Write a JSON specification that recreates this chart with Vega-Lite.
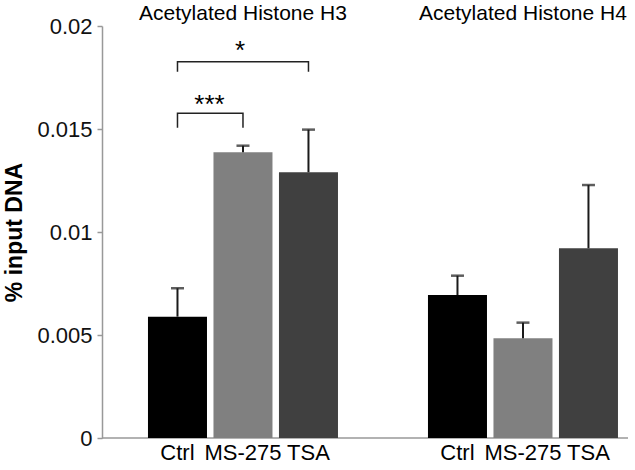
{
  "$schema": "https://vega.github.io/schema/vega-lite/v6.json",
  "width": 526,
  "height": 412,
  "autosize": "none",
  "padding": {"left": 102, "top": 26, "right": 7, "bottom": 32},
  "config": {"view": {"stroke": null}, "font": "Liberation Sans"},
  "datasets": {
    "bars": [
      {"group": "Acetylated Histone H3", "treatment": "Ctrl", "value": 0.00589, "upper": 0.00727},
      {"group": "Acetylated Histone H3", "treatment": "MS-275", "value": 0.01387, "upper": 0.01419},
      {"group": "Acetylated Histone H3", "treatment": "TSA", "value": 0.0129, "upper": 0.01497},
      {"group": "Acetylated Histone H4", "treatment": "Ctrl", "value": 0.00694, "upper": 0.00788},
      {"group": "Acetylated Histone H4", "treatment": "MS-275", "value": 0.00484, "upper": 0.0056},
      {"group": "Acetylated Histone H4", "treatment": "TSA", "value": 0.00921, "upper": 0.01228}
    ],
    "brackets": [
      {"bracket": "ctrl-tsa", "group": "Acetylated Histone H3", "treatment": "Ctrl", "y": 0.01778, "step": 1},
      {"bracket": "ctrl-tsa", "group": "Acetylated Histone H3", "treatment": "Ctrl", "y": 0.01827, "step": 2},
      {"bracket": "ctrl-tsa", "group": "Acetylated Histone H3", "treatment": "TSA", "y": 0.01827, "step": 3},
      {"bracket": "ctrl-tsa", "group": "Acetylated Histone H3", "treatment": "TSA", "y": 0.01778, "step": 4},
      {"bracket": "ctrl-ms", "group": "Acetylated Histone H3", "treatment": "Ctrl", "y": 0.01506, "step": 1},
      {"bracket": "ctrl-ms", "group": "Acetylated Histone H3", "treatment": "Ctrl", "y": 0.01576, "step": 2},
      {"bracket": "ctrl-ms", "group": "Acetylated Histone H3", "treatment": "MS-275", "y": 0.01576, "step": 3},
      {"bracket": "ctrl-ms", "group": "Acetylated Histone H3", "treatment": "MS-275", "y": 0.01506, "step": 4}
    ],
    "star1": [
      {"group": "Acetylated Histone H3", "treatment": "MS-275", "y": 0.01842, "label": "*"}
    ],
    "star3": [
      {"group": "Acetylated Histone H3", "treatment": "Ctrl", "y": 0.01578, "label": "***"}
    ]
  },
  "layer": [
    {
      "data": {"values": [{}]},
      "mark": {"type": "rule", "color": "#999999", "strokeWidth": 1.5},
      "encoding": {"y": {"datum": 0, "type": "quantitative"}}
    },
    {
      "data": {"name": "bars"},
      "mark": {"type": "bar"},
      "encoding": {
        "x": {"field": "group", "type": "nominal", "sort": ["Acetylated Histone H3", "Acetylated Histone H4"],
          "scale": {"paddingInner": 0.3214, "paddingOuter": 0.1, "align": 0.821},
          "axis": {"orient": "top", "title": null, "domain": false, "ticks": false, "labelAngle": 0, "labelFontSize": 21, "labelColor": "#000000", "labelPadding": 7, "labelBaseline": "alphabetic", "labelLimit": 0, "labelOverlap": false}},
        "xOffset": {"field": "treatment", "type": "nominal", "sort": ["Ctrl", "MS-275", "TSA"], "scale": {"paddingInner": 0.099, "paddingOuter": 0}},
        "y": {"field": "value", "type": "quantitative",
          "scale": {"domain": [0, 0.02], "nice": false},
          "axis": {"values": [0, 0.005, 0.01, 0.015, 0.02], "format": "~g", "grid": false,
            "domainColor": "#999999", "domainWidth": 1.5, "tickColor": "#999999", "tickWidth": 1.5, "tickSize": 5,
            "labelFontSize": 22, "labelColor": "#111111", "labelPadding": 5,
            "title": "% input DNA", "titleFontSize": 23, "titleFontWeight": "bold", "titleColor": "#000000", "titlePadding": 10}},
        "color": {"field": "treatment", "type": "nominal", "scale": {"domain": ["Ctrl", "MS-275", "TSA"], "range": ["#000000", "#808080", "#404040"]}, "legend": null}
      }
    },
    {
      "data": {"name": "bars"},
      "mark": {"type": "rule", "color": "#1a1a1a", "strokeWidth": 2},
      "encoding": {
        "x": {"field": "group", "type": "nominal"},
        "xOffset": {"field": "treatment", "type": "nominal"},
        "y": {"field": "value", "type": "quantitative"},
        "y2": {"field": "upper"}
      }
    },
    {
      "data": {"name": "bars"},
      "mark": {"type": "tick", "color": "#1a1a1a", "size": 13, "thickness": 2.5, "orient": "horizontal"},
      "encoding": {
        "x": {"field": "group", "type": "nominal"},
        "xOffset": {"field": "treatment", "type": "nominal"},
        "y": {"field": "upper", "type": "quantitative"}
      }
    },
    {
      "data": {"name": "bars"},
      "mark": {"type": "text", "fontSize": 22, "color": "#000000", "baseline": "alphabetic", "align": "center", "dy": 22},
      "encoding": {
        "x": {"field": "group", "type": "nominal"},
        "xOffset": {"field": "treatment", "type": "nominal"},
        "y": {"datum": 0, "type": "quantitative"},
        "text": {"field": "treatment"}
      }
    },
    {
      "data": {"name": "brackets"},
      "mark": {"type": "line", "color": "#222222", "strokeWidth": 1.5},
      "encoding": {
        "x": {"field": "group", "type": "nominal"},
        "xOffset": {"field": "treatment", "type": "nominal"},
        "y": {"field": "y", "type": "quantitative"},
        "detail": {"field": "bracket"},
        "order": {"field": "step", "type": "quantitative"}
      }
    },
    {
      "data": {"name": "star1"},
      "mark": {"type": "text", "fontSize": 26, "color": "#000000", "baseline": "alphabetic", "align": "center", "dx": -3},
      "encoding": {
        "x": {"field": "group", "type": "nominal"},
        "xOffset": {"field": "treatment", "type": "nominal"},
        "y": {"field": "y", "type": "quantitative"},
        "text": {"field": "label"}
      }
    },
    {
      "data": {"name": "star3"},
      "mark": {"type": "text", "fontSize": 26, "color": "#000000", "baseline": "alphabetic", "align": "center", "dx": 32},
      "encoding": {
        "x": {"field": "group", "type": "nominal"},
        "xOffset": {"field": "treatment", "type": "nominal"},
        "y": {"field": "y", "type": "quantitative"},
        "text": {"field": "label"}
      }
    }
  ]
}
